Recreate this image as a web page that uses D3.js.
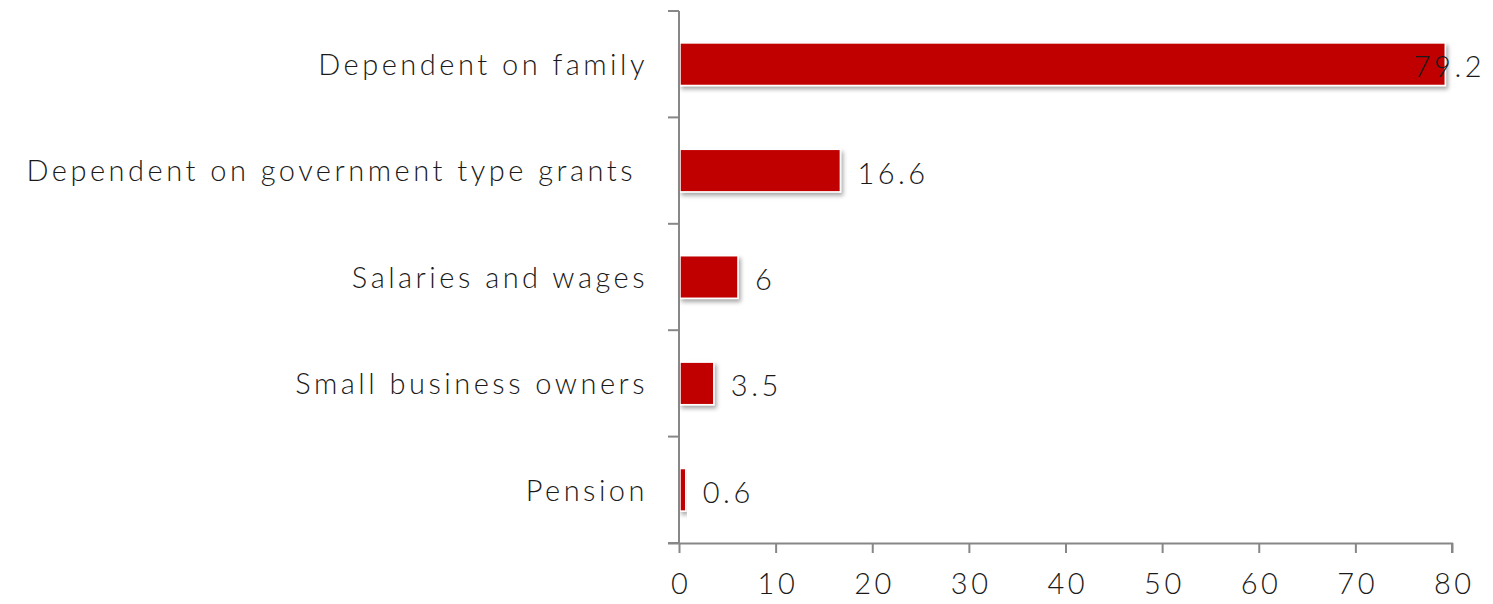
<!DOCTYPE html>
<html>
<head>
<meta charset="utf-8">
<script src="https://cdn.jsdelivr.net/npm/d3@7"></script>
<style>
  html, body { margin: 0; padding: 0; background: #fff; }
  svg text { font-family: "Lato", "Open Sans", sans-serif; font-weight: 300; fill: #1a1a1a; }
</style>
</head>
<body>
<svg id="chart" width="1493" height="604"></svg>
<script>
// Sources of income (%)
const categories = [
  "Dependent on family",
  "Dependent on government type grants",
  "Salaries and wages",
  "Small business owners",
  "Pension"
];
const values = [79.2, 16.6, 6, 3.5, 0.6];
const xTicks = [0, 10, 20, 30, 40, 50, 60, 70, 80];

const svg = d3.select("#chart");
const margin = { left: 679, right: 41, top: 11, bottom: 61 };
const W = 1493, H = 604;
const fontSize = 29, spacing = 3.5;

const x = d3.scaleLinear().domain([0, 80]).range([margin.left, W - margin.right]);
const y = d3.scaleBand().domain(categories).range([margin.top, H - margin.bottom])
  .paddingInner(0.6).paddingOuter(0.3);

// drop shadow under bars
const defs = svg.append("defs");
const f = defs.append("filter").attr("id", "shadow").attr("x", "-10%").attr("y", "-30%").attr("width", "130%").attr("height", "180%");
f.append("feDropShadow").attr("dx", 2).attr("dy", 3).attr("stdDeviation", 2)
  .attr("flood-color", "#000").attr("flood-opacity", 0.35);

// bars
svg.append("g").selectAll("rect").data(values).join("rect")
  .attr("x", x(0) + 1)
  .attr("y", (d, i) => y(categories[i]))
  .attr("width", d => x(d) - x(0))
  .attr("height", y.bandwidth())
  .attr("fill", "#c00000")
  .attr("stroke", "#fff")
  .attr("stroke-width", 1.5)
  .attr("filter", "url(#shadow)");

// y axis with boundary ticks between categories
const axisColor = "#878787";
const yAxis = svg.append("g");
yAxis.append("line").attr("x1", x(0)).attr("x2", x(0))
  .attr("y1", margin.top).attr("y2", H - margin.bottom)
  .attr("stroke", axisColor).attr("stroke-width", 2);
const step = (H - margin.bottom - margin.top) / categories.length;
d3.range(categories.length + 1).forEach(i => {
  yAxis.append("line").attr("x1", x(0) - 11).attr("x2", x(0))
    .attr("y1", margin.top + i * step).attr("y2", margin.top + i * step)
    .attr("stroke", axisColor).attr("stroke-width", 2);
});

// category labels
svg.append("g").selectAll("text").data(categories).join("text")
  .attr("x", (d, i) => i === 1 ? x(0) - 43 : x(0) - 31)
  .attr("y", d => y(d) + y.bandwidth() / 2)
  .attr("dy", "0.37em")
  .attr("text-anchor", "end")
  .attr("font-size", fontSize)
  .attr("letter-spacing", spacing)
  .text(d => d);

// x axis
const xAxis = d3.axisBottom(x).tickValues(xTicks).tickSize(10).tickPadding(20).tickFormat(d3.format("d"));
const gx = svg.append("g").attr("transform", `translate(0,${H - margin.bottom})`).call(xAxis);
gx.select(".domain").attr("stroke", axisColor).attr("stroke-width", 2)
  .attr("d", `M${x(0) - 11},0.5H${x(80)}V10`);
gx.selectAll(".tick line").attr("stroke", axisColor).attr("stroke-width", 2);
gx.selectAll(".tick text").attr("font-size", fontSize).attr("letter-spacing", spacing)
  .attr("dx", spacing / 2)
  .style("font-family", "Lato, 'Open Sans', sans-serif").style("font-weight", 300).attr("fill", "#1a1a1a");

// value labels
svg.append("g").selectAll("text").data(values).join("text")
  .attr("x", (d, i) => i === 0 ? W - 8 : x(d) + 18)
  .attr("y", (d, i) => y(categories[i]) + y.bandwidth() / 2)
  .attr("dy", "0.45em")
  .attr("text-anchor", (d, i) => i === 0 ? "end" : "start")
  .attr("font-size", fontSize)
  .attr("letter-spacing", spacing)
  .text(d => d);
</script>
</body>
</html>
